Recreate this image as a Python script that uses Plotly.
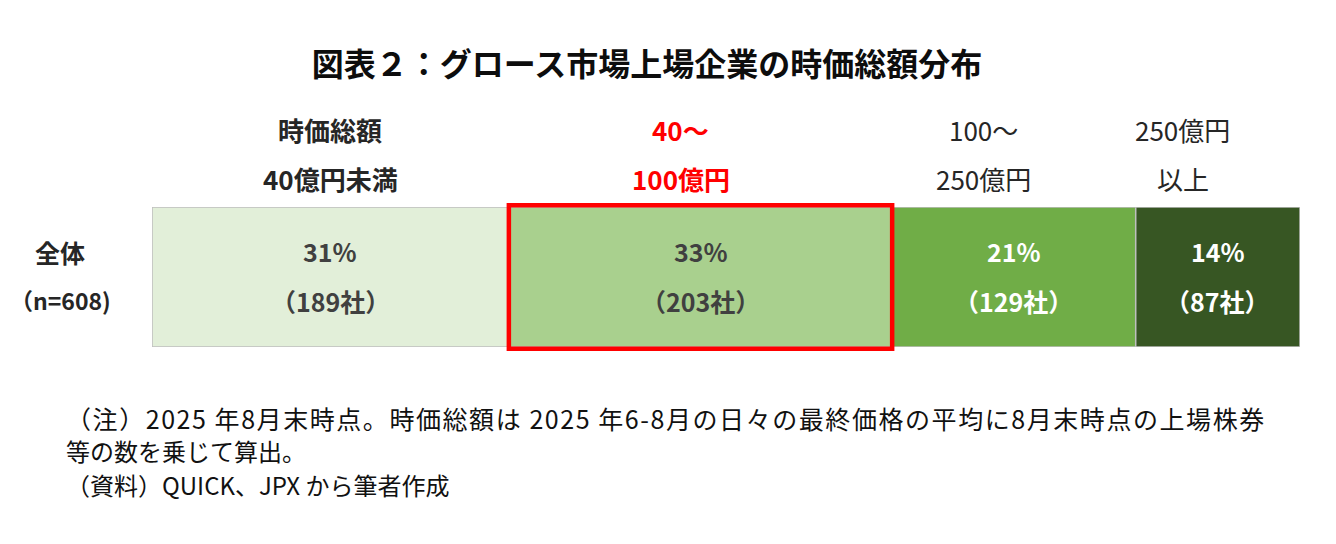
import plotly.graph_objects as go

# data
headers_top = ['時価総額', '40～', '100～', '250億円']
headers_bottom = ['40億円未満', '100億円', '250億円', '以上']
counts = [189, 203, 129, 87]
total = 608
row_label = '全体'
row_note = '（n=608)'

# styles
colors = ['#E2EFD9', '#A9D08E', '#70AD47', '#375623']
text_colors = ['#404040', '#404040', '#FFFFFF', '#FFFFFF']
header_colors = ['#262626', '#FF0000', '#262626', '#262626']
header_bold = [True, True, False, False]
header_shift = [0, -20, -30, -35]

FONT = 'Noto Sans CJK JP'
W, H, PAD = 1336, 544, 8  # page body adds an 8px margin


def px(x):
    return (x - PAD) / W


def py(y):
    return 1 - (y - PAD) / H


fig = go.Figure()

left = 0
for i, c in enumerate(counts):
    fig.add_trace(go.Bar(
        x=[c], y=[row_label], base=[left], orientation='h',
        marker=dict(color=colors[i], line=dict(color='#BFBFBF', width=1.5)),
        width=1, showlegend=False, hoverinfo='skip',
    ))
    mid = left + c / 2
    pct = round(c / total * 100)
    for txt, yy in [(f'<b>{pct}%</b>', 251), (f'<b>（{c}社）</b>', 301)]:
        fig.add_annotation(x=mid, y=py(yy), xref='x', yref='paper', showarrow=False,
                           xanchor='center', yanchor='middle', text=txt,
                           font=dict(size=25, color=text_colors[i]))
    for txt, yy in [(headers_top[i], 129), (headers_bottom[i], 178)]:
        if header_bold[i]:
            txt = f'<b>{txt}</b>'
        fig.add_annotation(x=mid, y=py(yy), xref='x', yref='paper', showarrow=False,
                           xanchor='center', yanchor='middle',
                           xshift=header_shift[i], text=txt,
                           font=dict(size=26, color=header_colors[i]))
    left += c

# highlight box around 40-100 segment
fig.add_shape(type='rect', xref='x', yref='y domain',
              x0=counts[0], x1=counts[0] + counts[1], y0=-0.012, y1=1.012,
              line=dict(color='#FF0000', width=4.5))

fig.add_annotation(x=px(60), y=py(252), xref='paper', yref='paper', showarrow=False,
                   xanchor='center', yanchor='middle',
                   text=f'<b>{row_label}</b>', font=dict(size=25, color='#262626'))
fig.add_annotation(x=px(60), y=py(300), xref='paper', yref='paper', showarrow=False,
                   xanchor='center', yanchor='middle',
                   text=f'<b>{row_note}</b>', font=dict(size=23, color='#262626'))

notes = [
    '（注）2025 年8月末時点。時価総額は 2025 年6-8月の日々の最終価格の平均に8月末時点の上場株券',
    '等の数を乗じて算出。',
    '（資料）QUICK、JPX から筆者作成',
]
# first line is justified in the original: spread it with hair spaces
notes[0] = '\u200a'.join(notes[0])
for j, (line, yy) in enumerate(zip(notes, [418, 450, 484])):
    fig.add_annotation(x=px(64), y=py(yy), xref='paper', yref='paper',
                       xanchor='left', yanchor='middle', showarrow=False, text=line,
                       font=dict(size=25 if j == 0 else 24, color='#111111'))

fig.update_layout(
    width=W, height=H,
    margin=dict(l=0, r=0, t=0, b=0),
    paper_bgcolor='white', plot_bgcolor='white',
    font=dict(family=FONT),
    title=dict(text='<b>図表２：グロース市場上場企業の時価総額分布</b>',
               x=px(647), xanchor='center', y=py(65), yanchor='middle',
               font=dict(size=32, color='#0D0D0D')),
    barmode='overlay',
    xaxis=dict(domain=[px(152), px(1300)], range=[0, total],
               visible=False, fixedrange=True),
    yaxis=dict(domain=[py(347), py(207)], range=[-0.5, 0.5],
               visible=False, fixedrange=True),
)

fig.write_html('out.html')
